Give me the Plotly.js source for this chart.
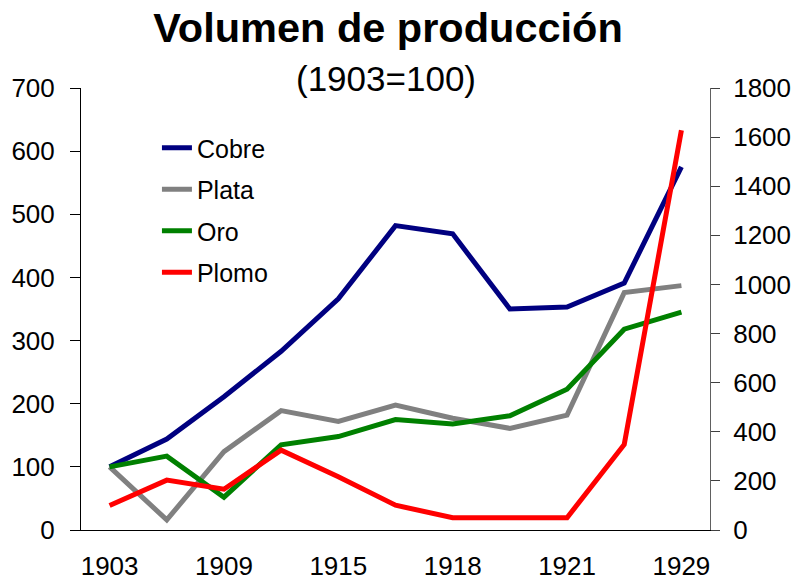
<!DOCTYPE html>
<html>
<head>
<meta charset="utf-8">
<script src="https://cdn.plot.ly/plotly-3.0.1.min.js"></script>
<style>html,body{margin:0;padding:0;background:#fff;}#chart{width:796px;height:582px;}</style>
</head>
<body>
<div id="chart"></div>
<script>
// Category positions (11 periods); only every other one is labelled in the original
const tickLabels = ["1903", "", "1909", "", "1915", "", "1918", "", "1921", "", "1929"];
const seriesNames = ["Cobre", "Plata", "Oro", "Plomo"];
const seriesColors = ["#000080", "#808080", "#008000", "#FF0000"];
// Index values (1903=100)
const cobre = [100, 144, 211, 283, 366, 482, 469, 350, 353, 391, 575];
const plata = [100, 16, 124, 189, 172, 198, 177, 161, 182, 376, 387];
const oro   = [100, 117, 52, 135, 148, 175, 168, 181, 223, 318, 345];
const plomo = [100, 203, 166, 325, 217, 101, 50, 50, 50, 348, 1628]; // right axis

const idx = tickLabels.map((_, i) => i);
const bounds = [];
for (let i = 0; i <= tickLabels.length; i++) bounds.push(i - 0.5);

const FONT = "Liberation Sans, Arial, sans-serif";
const values = [cobre, plata, oro, plomo];
const traces = values.map((v, k) => ({
  x: idx,
  y: v,
  name: seriesNames[k],
  type: "scatter",
  mode: "lines",
  line: {color: seriesColors[k], width: 5},
  yaxis: k === 3 ? "y2" : "y",
  legendgroup: "g" + k,
  hoverinfo: "x+y"
}));

const xr = [-0.5, tickLabels.length - 0.5];
const layout = {
  width: 796, height: 582,
  margin: {l: 81, r: 85.5, t: 88, b: 52, pad: 0},
  paper_bgcolor: "#fff", plot_bgcolor: "#fff",
  font: {family: FONT, size: 26, color: "#000"},
  title: {
    text: "<b>Volumen de producción</b>",
    font: {family: FONT, size: 41.5, color: "#000"},
    x: 388 / 796, xref: "container", xanchor: "center",
    y: 1 - 27 / 582, yref: "container", yanchor: "middle"
  },
  annotations: [{
    text: "(1903=100)", showarrow: false,
    xref: "paper", yref: "paper",
    x: (386.5 - 81) / 629.5, y: (530 - 78) / 442,
    xanchor: "center", yanchor: "middle",
    font: {family: FONT, size: 35, color: "#000"}
  }],
  showlegend: true,
  legend: {
    x: (157 - 81) / 629.5, y: (530 - 125) / 442, xanchor: "left", yanchor: "top",
    bgcolor: "rgba(0,0,0,0)", borderwidth: 0,
    font: {family: FONT, size: 25, color: "#000"},
    tracegroupgap: 6
  },
  xaxis: {
    range: xr, tickvals: idx, ticktext: tickLabels,
    ticks: "", showgrid: false, zeroline: false,
    showline: true, linecolor: "#000", linewidth: 1,
    tickfont: {family: FONT, size: 26, color: "#000"},
    ticklabelstandoff: 13, fixedrange: true
  },
  xaxis2: {
    overlaying: "x", anchor: "y", range: xr, tickvals: bounds,
    ticks: "outside", ticklen: 10, tickcolor: "#000", tickwidth: 1,
    showticklabels: false, showgrid: false, zeroline: false, showline: false
  },
  yaxis: {
    range: [0, 700], dtick: 100, tick0: 0,
    ticks: "outside", ticklen: 10, tickcolor: "#000", tickwidth: 1,
    showline: true, linecolor: "#000", linewidth: 1,
    showgrid: false, zeroline: false,
    tickfont: {family: FONT, size: 26, color: "#000"},
    ticklabelstandoff: 10
  },
  yaxis2: {
    overlaying: "y", side: "right", anchor: "x",
    range: [0, 1800], dtick: 200, tick0: 0,
    ticks: "outside", ticklen: 9, tickcolor: "#404040", tickwidth: 1,
    showline: true, linecolor: "#606060", linewidth: 1,
    showgrid: false, zeroline: false,
    tickfont: {family: FONT, size: 26, color: "#000"},
    ticklabelstandoff: 8
  },
  yaxis3: {
    overlaying: "y", side: "right", anchor: "x",
    range: [0, 1800], dtick: 200, tick0: 0,
    ticks: "inside", ticklen: 9, tickcolor: "#404040", tickwidth: 1,
    showticklabels: false, showline: false, showgrid: false, zeroline: false
  }
};

Plotly.newPlot("chart", traces, layout, {displayModeBar: false, staticPlot: true});
</script>
</body>
</html>
